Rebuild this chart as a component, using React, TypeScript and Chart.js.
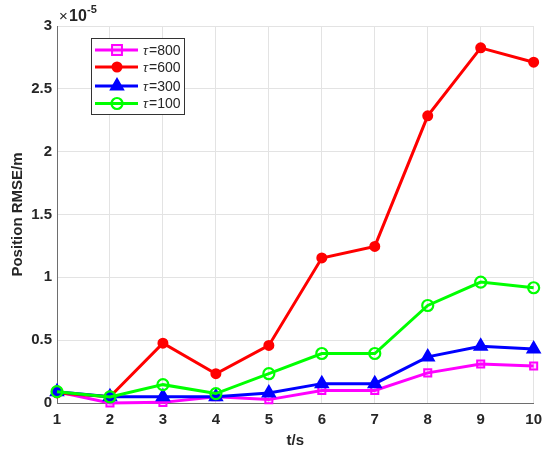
import React, { useEffect, useRef } from "react";
import { Chart, registerables } from "chart.js";

Chart.register(...registerables);

const times = [1, 2, 3, 4, 5, 6, 7, 8, 9, 10];
const tau800 = [0.09, 0.0, 0.005, 0.05, 0.027, 0.1, 0.1, 0.24, 0.31, 0.294];
const tau600 = [0.08, 0.05, 0.476, 0.233, 0.458, 1.154, 1.246, 2.285, 2.826, 2.712];
const tau300 = [0.09, 0.05, 0.05, 0.05, 0.08, 0.154, 0.154, 0.367, 0.452, 0.43];
const tau100 = [0.09, 0.048, 0.146, 0.075, 0.233, 0.394, 0.394, 0.776, 0.962, 0.917];
const seriesLabels = ["800", "600", "300", "100"];
const yTicks = [0, 0.5, 1, 1.5, 2, 2.5, 3];

const FONT = "'Liberation Sans', Arial, sans-serif";

type Style = { color: string; point: string; radius: number; fill: string; width: number };
const styles: Style[] = [
  { color: "#ff00ff", point: "rect", radius: 5, fill: "rgba(255,0,255,0.15)", width: 2 },
  { color: "#ff0000", point: "circle", radius: 4.5, fill: "#ff0000", width: 2 },
  { color: "#0000ff", point: "triangle", radius: 7, fill: "#0000ff", width: 2 },
  { color: "#00ff00", point: "circle", radius: 5.5, fill: "rgba(0,0,0,0)", width: 2.2 },
];

function drawMarker(ctx: CanvasRenderingContext2D, s: Style, x: number, y: number) {
  ctx.save();
  ctx.strokeStyle = s.color;
  ctx.fillStyle = s.fill;
  ctx.lineWidth = s.width;
  ctx.beginPath();
  const r = s.radius;
  if (s.point === "rect") {
    const h = r / Math.SQRT2 * 1.4;
    ctx.rect(x - h, y - h, 2 * h, 2 * h);
  } else if (s.point === "triangle") {
    ctx.moveTo(x, y - r);
    ctx.lineTo(x + r * 0.866, y + r * 0.5);
    ctx.lineTo(x - r * 0.866, y + r * 0.5);
    ctx.closePath();
  } else {
    ctx.arc(x, y, r, 0, Math.PI * 2);
  }
  ctx.fill();
  ctx.stroke();
  ctx.restore();
}

const overlayPlugin = {
  id: "overlay",
  afterDraw(chart: any) {
    const ctx: CanvasRenderingContext2D = chart.ctx;
    const area = chart.chartArea;
    ctx.save();
    // exponent label
    ctx.fillStyle = "#262626";
    ctx.textBaseline = "alphabetic";
    ctx.font = `15px ${FONT}`;
    ctx.fillText("×", area.left + 2, 21);
    ctx.font = `bold 16px ${FONT}`;
    ctx.fillText("10", area.left + 12, 21);
    ctx.font = `bold 11px ${FONT}`;
    ctx.fillText("-5", area.left + 30, 13);

    // legend
    const bx = area.left + 34, by = 38, bw = 93, bh = 76;
    ctx.fillStyle = "#ffffff";
    ctx.fillRect(bx, by, bw, bh);
    ctx.strokeStyle = "#333333";
    ctx.lineWidth = 1;
    ctx.strokeRect(bx + 0.5, by + 0.5, bw, bh);
    const rows = [50, 67, 86, 103.5];
    styles.forEach((s, i) => {
      const y = rows[i];
      ctx.strokeStyle = s.color;
      ctx.lineWidth = 3;
      ctx.beginPath();
      ctx.moveTo(bx + 4, y);
      ctx.lineTo(bx + 47, y);
      ctx.stroke();
      drawMarker(ctx, s, bx + 26, y);
      ctx.fillStyle = "#262626";
      ctx.textBaseline = "middle";
      ctx.font = `italic 13px ${FONT}`;
      ctx.fillText("τ", bx + 52, y + 1);
      ctx.font = `14px ${FONT}`;
      ctx.fillText("=" + seriesLabels[i], bx + 58, y + 1);
    });
    ctx.restore();
  },
};

export default function App() {
  const ref = useRef<HTMLCanvasElement | null>(null);
  useEffect(() => {
    document.body.style.margin = "0";
    const seriesData = [tau800, tau600, tau300, tau100];
    const orders = [3, 2, 1, 0];
    const chart = new Chart(ref.current as HTMLCanvasElement, {
      type: "line",
      data: {
        datasets: seriesData.map((vals, i) => ({
          label: "τ=" + seriesLabels[i],
          data: vals.map((v, j) => ({ x: times[j], y: v })),
          borderColor: styles[i].color,
          backgroundColor: styles[i].fill,
          pointBorderColor: styles[i].color,
          pointBackgroundColor: styles[i].fill,
          pointStyle: styles[i].point as any,
          pointRadius: styles[i].radius,
          pointBorderWidth: styles[i].width,
          borderWidth: 3,
          tension: 0,
          order: orders[i],
          clip: false as any,
        })),
      },
      options: {
        animation: false,
        responsive: false,
        devicePixelRatio: 1,
        layout: { padding: { left: 0, right: 14, top: 26, bottom: 0 } },
        plugins: { legend: { display: false }, tooltip: { enabled: false } },
        scales: {
          x: {
            type: "linear",
            min: 1,
            max: 10,
            afterFit: (s: any) => { s.height = 48; },
            afterBuildTicks: (s: any) => { s.ticks = times.map((v) => ({ value: v })); },
            grid: { color: "#e3e3e3", drawTicks: false },
            border: { color: "#6e6e6e", width: 1 },
            ticks: { color: "#262626", font: { family: FONT, size: 15, weight: "bold" }, padding: 8, maxRotation: 0, callback: (v: any) => String(v) },
            title: { display: true, text: "t/s", color: "#262626", font: { family: FONT, size: 15, weight: "bold" }, padding: { top: 0, bottom: 1 } },
          },
          y: {
            type: "linear",
            min: 0,
            max: 3,
            afterFit: (s: any) => { s.width = 57; },
            afterBuildTicks: (s: any) => { s.ticks = yTicks.map((v) => ({ value: v })); },
            grid: { color: "#e3e3e3", drawTicks: false },
            border: { color: "#6e6e6e", width: 1 },
            ticks: { color: "#262626", font: { family: FONT, size: 15, weight: "bold" }, padding: 5, callback: (v: any) => String(v) },
            title: { display: true, text: "Position RMSE/m", color: "#262626", font: { family: FONT, size: 15, weight: "bold" }, padding: { top: 9, bottom: 9 } },
          },
        },
      },
      plugins: [overlayPlugin],
    });
    return () => chart.destroy();
  }, []);
  return (
    <div style={{ width: 550, height: 451, background: "#fff" }}>
      <canvas ref={ref} width={550} height={451} />
    </div>
  );
}
